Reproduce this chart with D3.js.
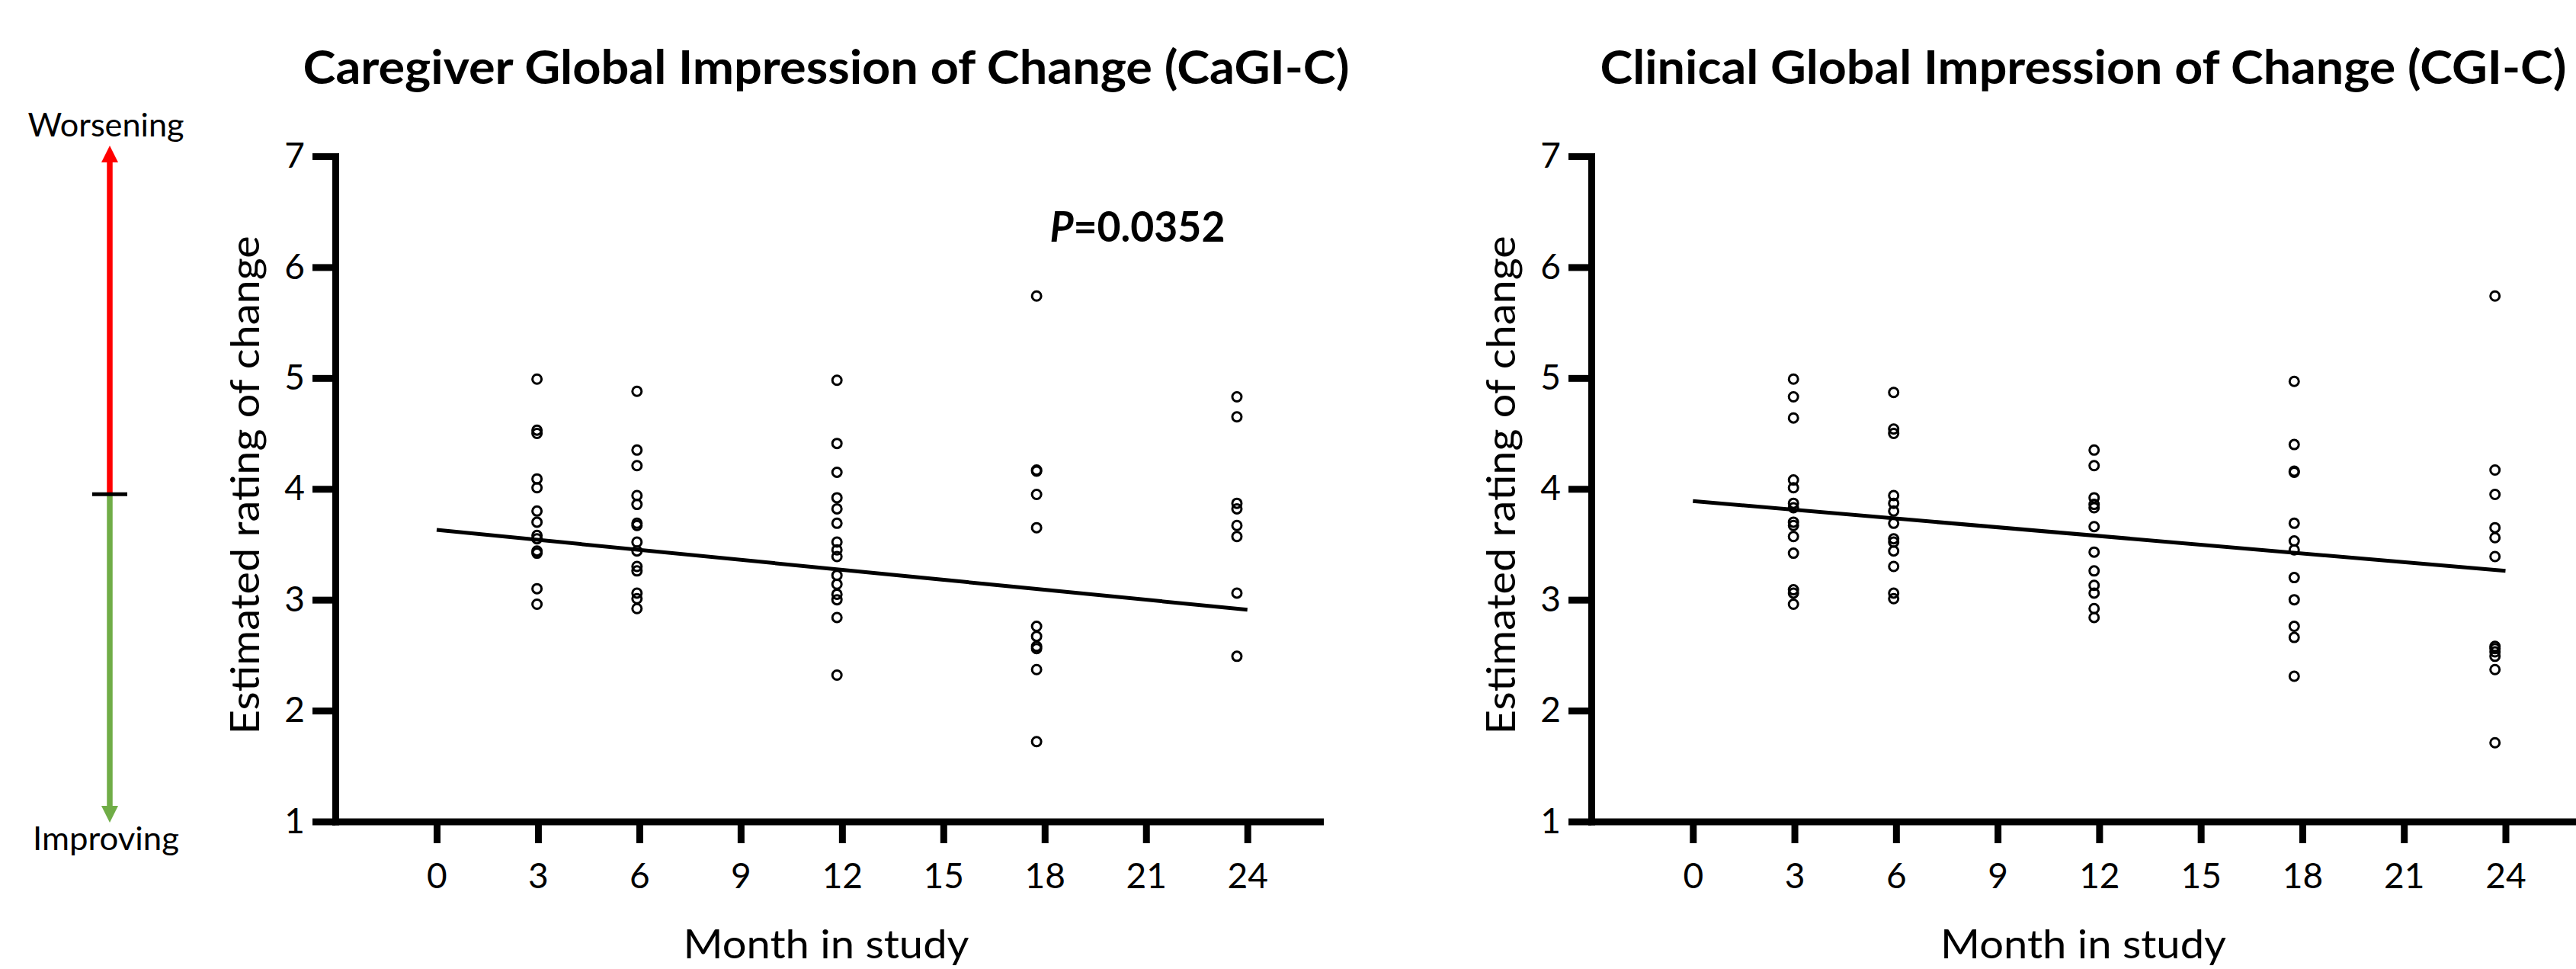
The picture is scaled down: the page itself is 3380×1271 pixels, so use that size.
<!DOCTYPE html>
<html><head><meta charset="utf-8">
<script src="https://cdn.jsdelivr.net/npm/d3@7"></script>
<style>
body{margin:0;background:#fff}
svg{display:block}
text{font-family:Lato,"Open Sans",sans-serif;fill:#000}
</style>
</head><body>
<svg id="chart" width="3380" height="1271"></svg>
<script>
// ---------- data ----------
const xTickValues = [0, 3, 6, 9, 12, 15, 18, 21, 24];
const yTickValues = [1, 2, 3, 4, 5, 6, 7];
const visitMonths = [2.97, 5.93, 11.85, 17.76, 23.69];

// CaGI-C estimated ratings per visit
const cagicM3  = [4.99, 4.53, 4.50, 4.09, 4.01, 3.80, 3.70, 3.58, 3.55, 3.44, 3.42, 3.10, 2.96];
const cagicM6  = [4.88, 4.35, 4.21, 3.94, 3.86, 3.69, 3.67, 3.52, 3.44, 3.30, 3.26, 3.06, 3.01, 2.92];
const cagicM12 = [4.98, 4.41, 4.15, 3.92, 3.82, 3.69, 3.52, 3.45, 3.39, 3.22, 3.14, 3.05, 3.00, 2.84, 2.32];
const cagicM18 = [5.74, 4.17, 4.16, 3.95, 3.65, 2.76, 2.67, 2.58, 2.56, 2.37, 1.72];
const cagicM24 = [4.83, 4.65, 3.87, 3.82, 3.67, 3.57, 3.06, 2.49];
const cagicFitMonths = [0, 24];
const cagicFitValues = [3.63, 2.91];

// CGI-C estimated ratings per visit
const cgicM3  = [4.99, 4.83, 4.64, 4.08, 4.01, 3.87, 3.83, 3.70, 3.67, 3.57, 3.42, 3.09, 3.06, 2.96];
const cgicM6  = [4.87, 4.54, 4.50, 3.94, 3.87, 3.80, 3.69, 3.55, 3.52, 3.44, 3.30, 3.06, 3.01];
const cgicM12 = [4.35, 4.21, 3.92, 3.86, 3.83, 3.66, 3.43, 3.26, 3.13, 3.06, 2.92, 2.84];
const cgicM18 = [4.97, 4.40, 4.16, 4.15, 3.69, 3.53, 3.45, 3.20, 3.00, 2.76, 2.66, 2.31];
const cgicM24 = [5.74, 4.17, 3.95, 3.65, 3.56, 3.39, 2.58, 2.56, 2.53, 2.49, 2.37, 1.71];
const cgicFitMonths = [0, 24];
const cgicFitValues = [3.89, 3.26];

const titles = ["Caregiver Global Impression of Change (CaGI-C)", "Clinical Global Impression of Change (CGI-C)"];
const yLabel = "Estimated rating of change";
const xLabel = "Month in study";
const pText = ["P", "=0.0352"];

// ---------- drawing ----------
const svg = d3.select("#chart");
const AX = 9;

const panels = [
  {groups: [cagicM3, cagicM6, cagicM12, cagicM18, cagicM24], fitX: cagicFitMonths, fitY: cagicFitValues,
   title: titles[0], xr: [440, 1732], titleW: 1373, pval: true},
  {groups: [cgicM3, cgicM6, cgicM12, cgicM18, cgicM24], fitX: cgicFitMonths, fitY: cgicFitValues,
   title: titles[1], xr: [2088, 3383], titleW: 1268, pval: false}
];

const y = d3.scaleLinear().domain([1, 7]).range([1077.5, 205]);

panels.forEach(p => {
  const x = d3.scaleLinear().domain([-3, 26.15]).range(p.xr);
  const g = svg.append("g");

  const ya = g.append("g").attr("transform", `translate(${p.xr[0]},0)`)
    .call(d3.axisLeft(y).tickValues(yTickValues).tickSize(30).tickSizeOuter(0).tickPadding(10).tickFormat(d3.format("d")));
  const xa = g.append("g").attr("transform", `translate(0,${y(1)})`)
    .call(d3.axisBottom(x).tickValues(xTickValues).tickSize(28.5).tickSizeOuter(0).tickFormat(d3.format("d")));
  [ya, xa].forEach(a => {
    a.select(".domain").attr("stroke", "#000").attr("stroke-width", AX).attr("stroke-linecap", "square");
    a.selectAll(".tick line").attr("stroke", "#000").attr("stroke-width", AX);
    a.selectAll(".tick text").attr("font-size", 46).attr("font-family", "Lato").attr("fill", "#000");
  });
  xa.selectAll(".tick text").attr("y", 87.5).attr("dy", 0);

  p.groups.forEach((vals, i) => {
    g.append("g").selectAll("circle").data(vals).join("circle")
      .attr("cx", x(visitMonths[i])).attr("cy", d => y(d)).attr("r", 6)
      .attr("fill", "none").attr("stroke", "#000").attr("stroke-width", 3);
  });

  const line = d3.line().x(d => x(d[0])).y(d => y(d[1]));
  g.append("path").datum(p.fitX.map((m, i) => [m, p.fitY[i]]))
    .attr("d", line).attr("fill", "none").attr("stroke", "#000").attr("stroke-width", 5);

  g.append("text").attr("x", (p.xr[0] + p.xr[1]) / 2 - 2).attr("y", 110)
    .attr("text-anchor", "middle").attr("font-weight", 700).attr("font-size", 62)
    .attr("textLength", p.titleW).attr("lengthAdjust", "spacingAndGlyphs").text(p.title);

  g.append("text").attr("transform", `translate(${p.xr[0] - 100},${(y(1) + y(7)) / 2 - 5}) rotate(-90)`)
    .attr("text-anchor", "middle").attr("font-size", 53)
    .attr("textLength", 654).attr("lengthAdjust", "spacingAndGlyphs").text(yLabel);
  g.append("text").attr("x", (p.xr[0] + p.xr[1]) / 2 - 2).attr("y", 1257)
    .attr("text-anchor", "middle").attr("font-size", 53)
    .attr("textLength", 375).attr("lengthAdjust", "spacingAndGlyphs").text(xLabel);

  if (p.pval) {
    const t = g.append("text").attr("x", x(18.15)).attr("y", y(6.23))
      .attr("font-weight", 700).attr("font-size", 55)
      .attr("textLength", 230).attr("lengthAdjust", "spacingAndGlyphs");
    t.append("tspan").attr("font-style", "italic").text(pText[0]);
    t.append("tspan").text(pText[1]);
  }
});

// direction arrow (annotation beside left panel)
const arrX = 144;
const arrTop = y(7) - 14, arrMid = y(4) + 7, arrBot = y(1) + 1.5;
const ann = svg.append("g");
ann.append("line").attr("x1", arrX).attr("x2", arrX).attr("y1", arrTop + 20).attr("y2", arrMid)
  .attr("stroke", "#FF0000").attr("stroke-width", 7.5);
ann.append("path").attr("d", `M${arrX},${arrTop}L${arrX + 11},${arrTop + 22}L${arrX - 11},${arrTop + 22}Z`).attr("fill", "#FF0000");
ann.append("line").attr("x1", arrX).attr("x2", arrX).attr("y1", arrMid).attr("y2", arrBot - 20)
  .attr("stroke", "#70AD47").attr("stroke-width", 7.5);
ann.append("path").attr("d", `M${arrX},${arrBot}L${arrX + 11},${arrBot - 22}L${arrX - 11},${arrBot - 22}Z`).attr("fill", "#70AD47");
ann.append("line").attr("x1", 121).attr("x2", 167).attr("y1", arrMid).attr("y2", arrMid)
  .attr("stroke", "#000").attr("stroke-width", 5);
ann.append("text").attr("x", 139).attr("y", 179).attr("text-anchor", "middle").attr("font-size", 42)
  .attr("textLength", 205).attr("lengthAdjust", "spacingAndGlyphs").text("Worsening");
ann.append("text").attr("x", 139).attr("y", 1115).attr("text-anchor", "middle").attr("font-size", 42)
  .attr("textLength", 192).attr("lengthAdjust", "spacingAndGlyphs").text("Improving");
</script>
</body></html>
